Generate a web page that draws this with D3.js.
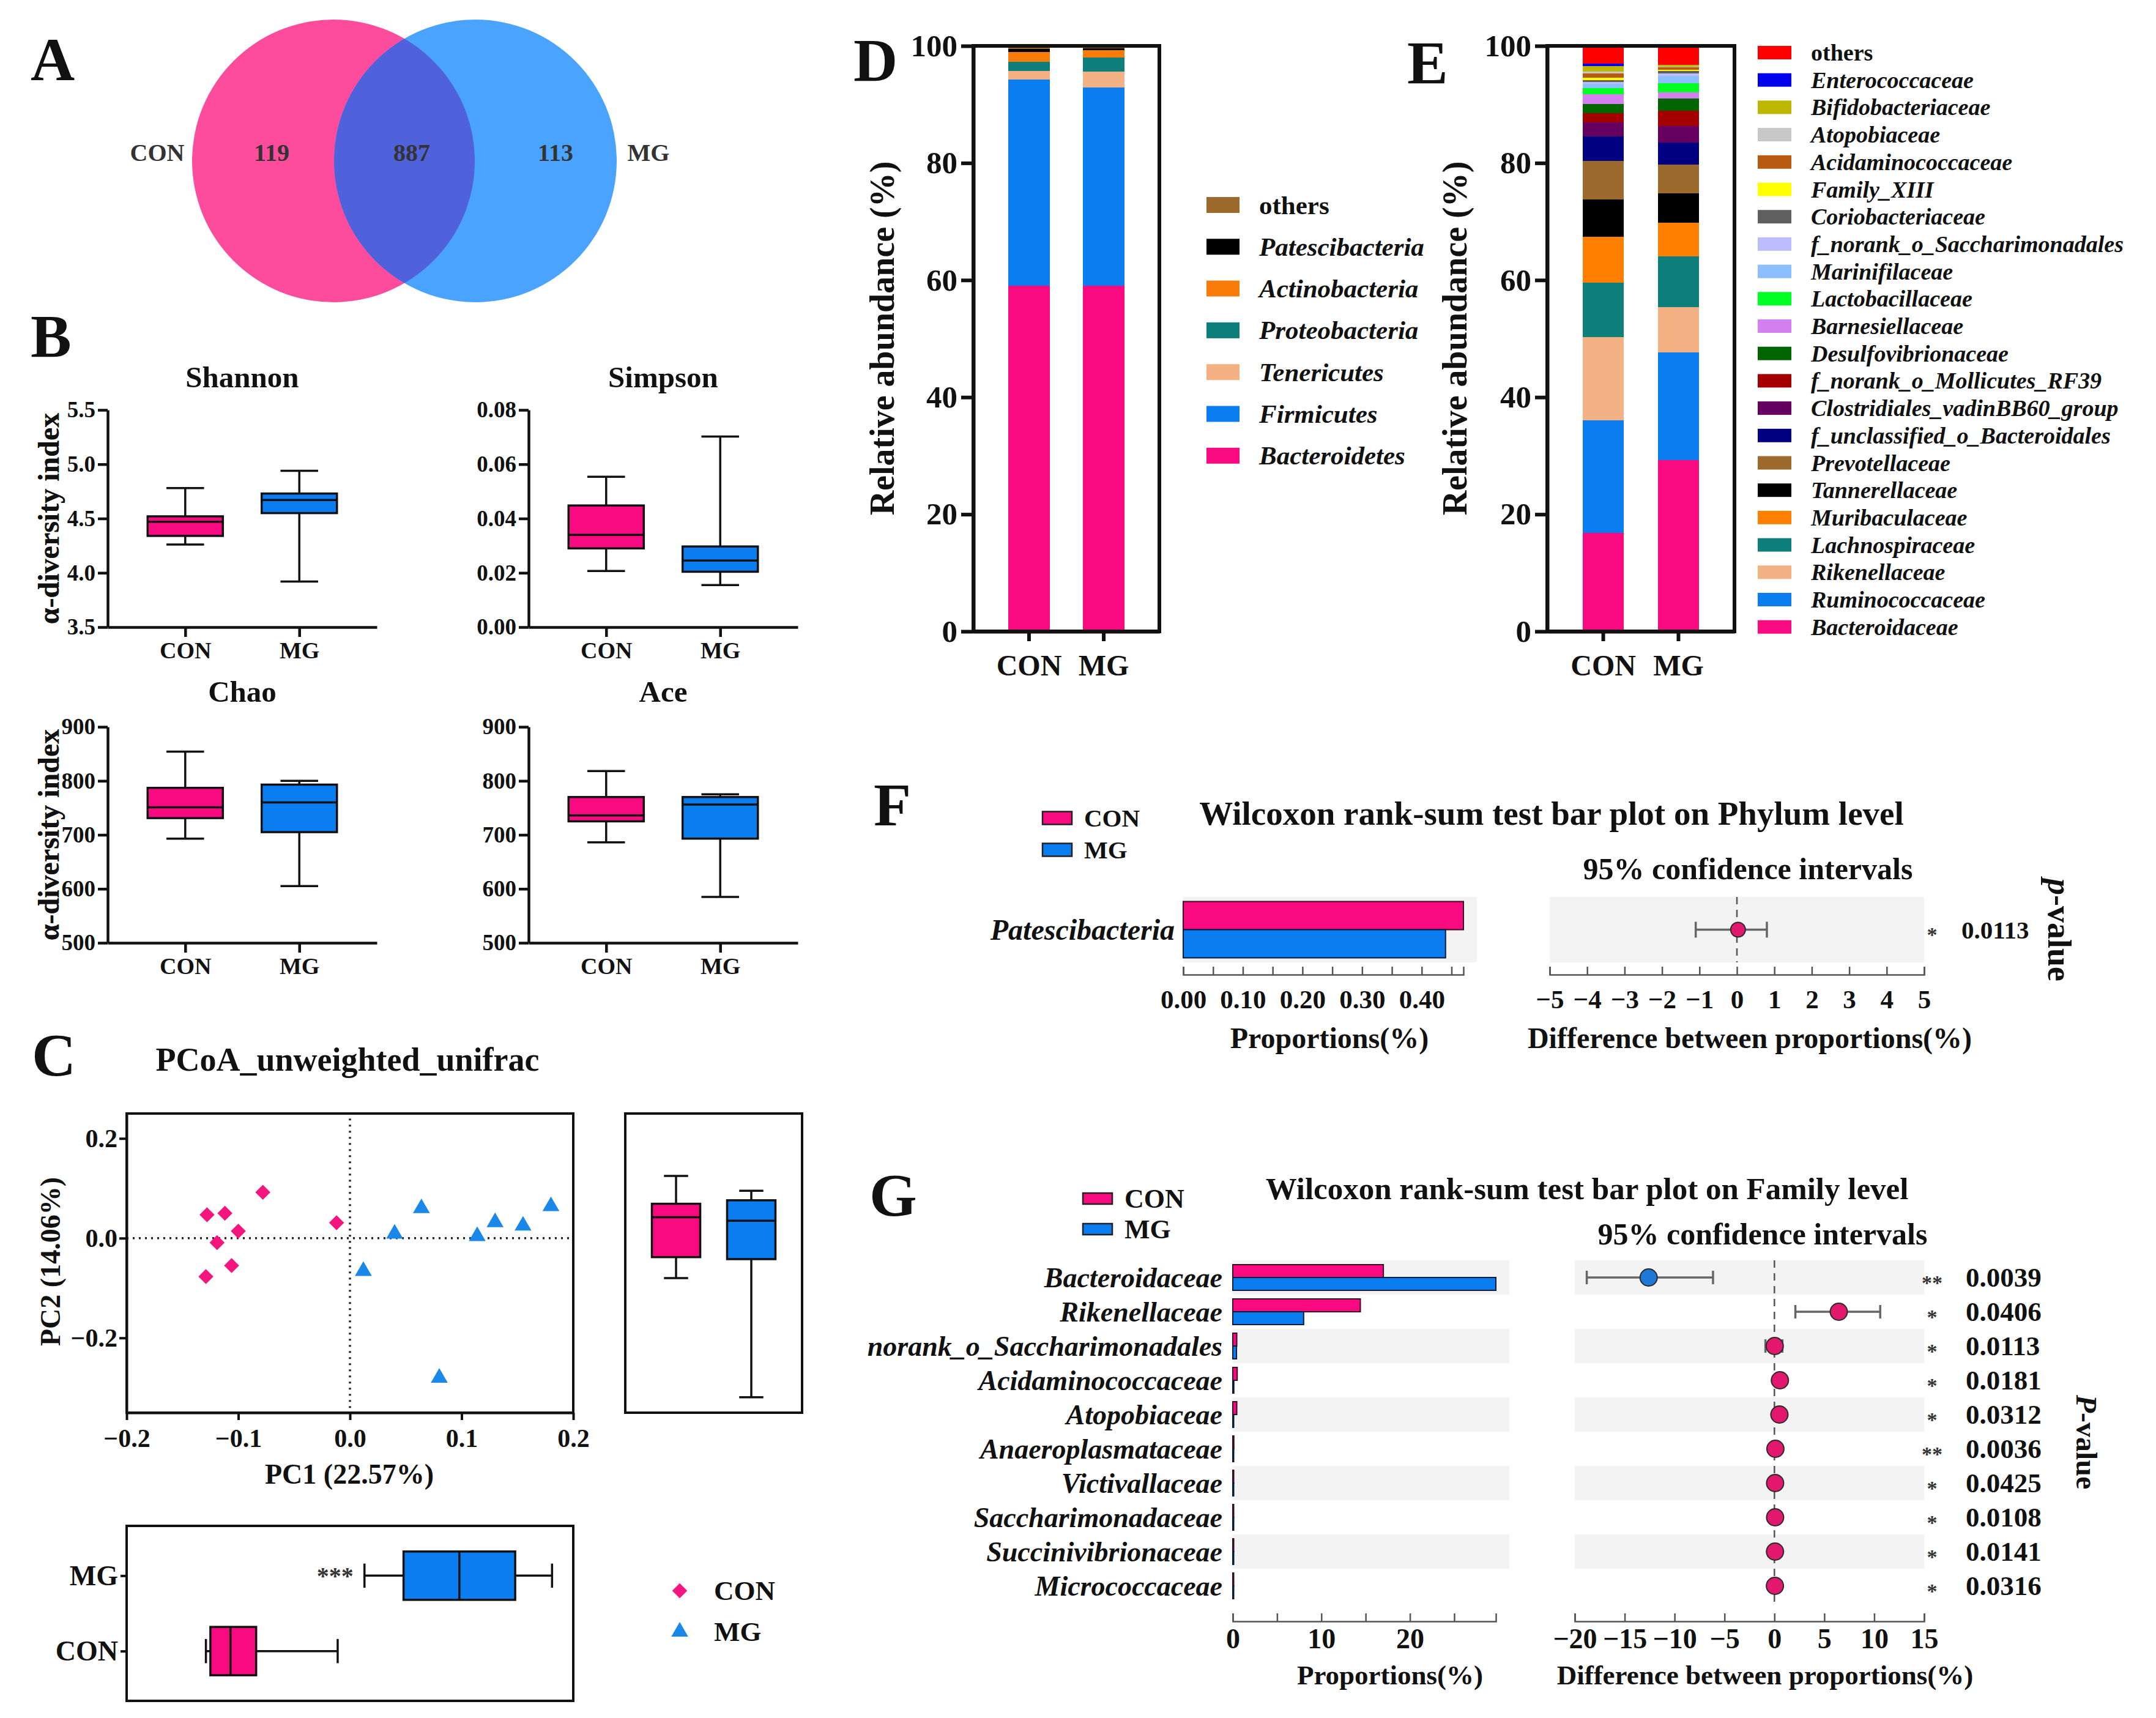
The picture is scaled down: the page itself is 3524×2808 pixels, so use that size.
<!DOCTYPE html>
<html>
<head>
<meta charset="utf-8">
<script src="https://cdn.jsdelivr.net/npm/d3@7"></script>
<style>
  body { margin: 0; background: #fff; }
  svg { display: block; }
  text { font-family: "Liberation Serif", "Times New Roman", serif; font-weight: bold; fill: #111; }
</style>
</head>
<body>
<svg id="fig" width="3524" height="2808"></svg>
<script>
// ---------------- data ----------------
const groups = ["CON", "MG"];
const vennCounts = [119, 887, 113];            // CON only, shared, MG only

// alpha diversity boxes: [min, q1, median, q3, max]
const shannonCON = [4.26, 4.34, 4.47, 4.52, 4.78];
const shannonMG  = [3.92, 4.55, 4.67, 4.73, 4.94];
const simpsonCON = [0.0207, 0.029, 0.034, 0.0448, 0.0554];
const simpsonMG  = [0.0155, 0.0204, 0.0245, 0.0297, 0.0702];
const chaoCON = [693, 731, 751, 787, 854];
const chaoMG  = [605, 705, 760, 793, 800];
const aceCON  = [686, 725, 736, 770, 818];
const aceMG   = [585, 693, 756, 770, 775];

// PCoA
const conPC1 = [-0.128, -0.112, -0.100, -0.119, -0.106, -0.129, -0.078, -0.012];
const conPC2 = [0.047, 0.050, 0.014, -0.009, -0.055, -0.077, 0.092, 0.031];
const mgPC1  = [0.064, 0.040, 0.012, 0.080, 0.114, 0.130, 0.155, 0.180];
const mgPC2  = [0.060, 0.009, -0.066, -0.280, 0.004, 0.032, 0.025, 0.064];
const pc1BoxCON = [-0.129, -0.125, -0.107, -0.084, -0.011];
const pc1BoxMG  = [0.013, 0.048, 0.098, 0.148, 0.181];
const pc2BoxCON = [-0.080, -0.038, 0.042, 0.069, 0.125];
const pc2BoxMG  = [-0.319, -0.042, 0.035, 0.076, 0.095];

// D: phylum composition (bottom to top)
const phylumNames = ["Bacteroidetes", "Firmicutes", "Tenericutes", "Proteobacteria",
  "Actinobacteria", "Patescibacteria", "others"];
const phylumCON = [59.0, 35.25, 1.5, 1.5, 1.75, 0.5, 0.5];
const phylumMG  = [59.0, 33.9, 2.7, 2.45, 1.2, 0.35, 0.4];

// E: family composition (bottom to top)
const familyNames = ["Bacteroidaceae", "Ruminococcaceae", "Rikenellaceae", "Lachnospiraceae",
  "Muribaculaceae", "Tannerellaceae", "Prevotellaceae", "f_unclassified_o_Bacteroidales",
  "Clostridiales_vadinBB60_group", "f_norank_o_Mollicutes_RF39", "Desulfovibrionaceae",
  "Barnesiellaceae", "Lactobacillaceae", "Marinifilaceae", "f_norank_o_Saccharimonadales",
  "Coriobacteriaceae", "Family_XIII", "Acidaminococcaceae", "Atopobiaceae",
  "Bifidobacteriaceae", "Enterococcaceae", "others"];
const familyCON = [16.8, 19.3, 14.2, 9.3, 7.8, 6.4, 6.6, 4.15, 2.4, 1.55, 1.55, 1.7, 1.0,
  0.75, 0.35, 0.3, 0.4, 0.7, 0.35, 0.9, 0.5, 3.0];
const familyMG  = [29.3, 18.3, 7.8, 8.7, 5.7, 5.0, 4.9, 3.8, 2.8, 2.6, 2.1, 1.1, 1.5,
  1.25, 0.5, 0.4, 0.2, 0.4, 0.1, 0.3, 0.05, 3.2];

// F: Wilcoxon test, phylum level
const phylumTest = ["Patescibacteria"];
const phylumTestCON = [0.47];
const phylumTestMG = [0.44];
const phylumTestDiff = [0.03];
const phylumTestLow = [-1.1];
const phylumTestHigh = [0.8];
const phylumTestP = ["0.0113"];
const phylumTestSig = ["*"];

// G: Wilcoxon test, family level
const familyTest = ["Bacteroidaceae", "Rikenellaceae", "norank_o_Saccharimonadales",
  "Acidaminococcaceae", "Atopobiaceae", "Anaeroplasmataceae", "Victivallaceae",
  "Saccharimonadaceae", "Succinivibrionaceae", "Micrococcaceae"];
const familyTestCON = [17.0, 14.4, 0.45, 0.5, 0.45, 0.12, 0.08, 0.08, 0.07, 0.06];
const familyTestMG  = [29.7, 8.0, 0.42, 0.12, 0.1, 0.02, 0.01, 0.01, 0.01, 0.01];
const familyTestDiff = [-12.6, 6.45, 0.03, 0.55, 0.5, 0.1, 0.07, 0.07, 0.06, 0.05];
const familyTestLow  = [-18.8, 2.1, -0.9, 0.2, 0.15, 0.0, 0.0, 0.0, 0.0, 0.0];
const familyTestHigh = [-6.15, 10.6, 0.8, 0.9, 0.8, 0.2, 0.15, 0.15, 0.1, 0.1];
const familyTestP = ["0.0039", "0.0406", "0.0113", "0.0181", "0.0312", "0.0036",
  "0.0425", "0.0108", "0.0141", "0.0316"];
const familyTestSig = ["**", "*", "*", "*", "*", "**", "*", "*", "*", "*"];

// ---------------- styles ----------------
const pink = "#fa0a80", blue = "#0a7df0";
const phylumColors = [pink, blue, "#f4b183", "#0e7f7a", "#f97c0a", "#000000", "#9b6a2c"];
const familyColors = [pink, blue, "#f4b183", "#0e7f7a", "#ff7f00", "#000000", "#9b6a2c",
  "#000080", "#660060", "#a50000", "#006400", "#d580f0", "#00ff22", "#8cbfff", "#bcbcff",
  "#5f5f5f", "#ffff00", "#b85a10", "#c8c8c8", "#bdb700", "#0000ee", "#ff0000"];

const svg = d3.select("#fig");

function txt(g, s, x, y, size, o = {}) {
  const t = g.append("text").attr("x", x).attr("y", y).attr("font-size", size).text(s);
  if (o.anchor) t.attr("text-anchor", o.anchor);
  if (o.italic) t.style("font-style", "italic");
  if (o.rotate) t.attr("transform", `rotate(${o.rotate},${x},${y})`);
  if (o.central) t.attr("dominant-baseline", "central");
  if (o.fill) t.style("fill", o.fill);
  return t;
}

function styleAxis(a, w, size, color = "#111") {
  a.attr("font-size", size);
  a.selectAll("path, line").attr("stroke", color).attr("stroke-width", w);
}

// vertical box: s = [min,q1,med,q3,max]
function vBox(g, cx, y, s, w, color, sw) {
  const line = (x1, y1, x2, y2) => g.append("line").attr("x1", x1).attr("y1", y1)
    .attr("x2", x2).attr("y2", y2).attr("stroke", "#111").attr("stroke-width", sw);
  line(cx, y(s[0]), cx, y(s[4]));
  line(cx - w / 4, y(s[0]), cx + w / 4, y(s[0]));
  line(cx - w / 4, y(s[4]), cx + w / 4, y(s[4]));
  g.append("rect").attr("x", cx - w / 2).attr("y", y(s[3])).attr("width", w)
    .attr("height", y(s[1]) - y(s[3])).attr("fill", color).attr("stroke", "#111").attr("stroke-width", sw);
  line(cx - w / 2, y(s[2]), cx + w / 2, y(s[2]));
}
function hBox(g, cy, x, s, h, color, sw) {
  const line = (x1, y1, x2, y2) => g.append("line").attr("x1", x1).attr("y1", y1)
    .attr("x2", x2).attr("y2", y2).attr("stroke", "#111").attr("stroke-width", sw);
  line(x(s[0]), cy, x(s[4]), cy);
  line(x(s[0]), cy - h / 4, x(s[0]), cy + h / 4);
  line(x(s[4]), cy - h / 4, x(s[4]), cy + h / 4);
  g.append("rect").attr("x", x(s[1])).attr("y", cy - h / 2).attr("width", x(s[3]) - x(s[1]))
    .attr("height", h).attr("fill", color).attr("stroke", "#111").attr("stroke-width", sw);
  line(x(s[2]), cy - h / 2, x(s[2]), cy + h / 2);
}

// ---------------- panel letters ----------------
[["A", 50, 131], ["B", 50, 583], ["C", 52, 1758], ["D", 1395, 132], ["E", 2300, 136],
 ["F", 1428, 1349], ["G", 1421, 1987]].forEach(d => txt(svg, d[0], d[1], d[2], 100));

// ---------------- A: Venn ----------------
{
  const g = svg.append("g");
  const cx = [545, 777], cy = 263, r = 231;
  svg.append("defs").append("clipPath").attr("id", "clipCon")
    .append("circle").attr("cx", cx[0]).attr("cy", cy).attr("r", r);
  g.append("circle").attr("cx", cx[0]).attr("cy", cy).attr("r", r).attr("fill", "#fe4c9d");
  g.append("circle").attr("cx", cx[1]).attr("cy", cy).attr("r", r).attr("fill", "#4aa3ff");
  g.append("circle").attr("cx", cx[1]).attr("cy", cy).attr("r", r).attr("fill", "#4f62dc")
    .attr("clip-path", "url(#clipCon)");
  txt(g, groups[0], 257, 249, 40, { anchor: "middle", central: true, fill: "#333" });
  txt(g, groups[1], 1060, 249, 40, { anchor: "middle", central: true, fill: "#333" });
  [444, 673, 908].forEach((x, i) =>
    txt(g, vennCounts[i], x, 249, 40, { anchor: "middle", central: true, fill: "#333" }));
}

// ---------------- B: alpha diversity ----------------
function alphaPanel(ox, yTop, yBot, titleY, name, dom, step, fmt, con, mg) {
  const g = svg.append("g");
  const y = d3.scaleLinear().domain(dom).range([yBot, yTop]);
  const x = d3.scalePoint().domain(groups).range([ox, ox + 440]).padding(0.68);
  const ya = g.append("g").attr("transform", `translate(${ox},0)`)
    .call(d3.axisLeft(y).tickValues(d3.range(dom[0], dom[1] + step / 2, step))
      .tickFormat(fmt).tickSize(16).tickPadding(4).tickSizeOuter(0));
  const xa = g.append("g").attr("transform", `translate(0,${yBot})`)
    .call(d3.axisBottom(x).tickSize(16).tickPadding(8).tickSizeOuter(0));
  styleAxis(ya, 4.5, 37);
  styleAxis(xa, 4.5, 38);
  vBox(g, x("CON"), y, con, 123, pink, 3.5);
  vBox(g, x("MG"), y, mg, 123, blue, 3.5);
  txt(g, name, ox + 220, titleY, 49, { anchor: "middle" });
  txt(g, "α-diversity index", 79, (yTop + yBot) / 2, 48,
    { anchor: "middle", central: true, rotate: -90 });
}
alphaPanel(176, 670, 1025, 633, "Shannon", [3.5, 5.5], 0.5, d3.format(".1f"), shannonCON, shannonMG);
alphaPanel(864, 670, 1025, 633, "Simpson", [0, 0.08], 0.02, d3.format(".2f"), simpsonCON, simpsonMG);
alphaPanel(176, 1188, 1541, 1147, "Chao", [500, 900], 100, d3.format("d"), chaoCON, chaoMG);
alphaPanel(864, 1188, 1541, 1147, "Ace", [500, 900], 100, d3.format("d"), aceCON, aceMG);

// ---------------- C: PCoA ----------------
{
  const g = svg.append("g");
  const x = d3.scaleLinear().domain([-0.2, 0.2]).range([207, 937]);
  const y = d3.scaleLinear().domain([-0.35, 0.25]).range([2309, 1820]);
  txt(g, "PCoA_unweighted_unifrac", 568, 1750, 54, { anchor: "middle" });

  // reference lines
  g.append("line").attr("x1", x(0)).attr("x2", x(0)).attr("y1", y(0.24)).attr("y2", y(-0.35))
    .attr("stroke", "#222").attr("stroke-width", 3.5).attr("stroke-dasharray", "3,7");
  g.append("line").attr("x1", x(-0.2)).attr("x2", x(0.2)).attr("y1", y(0)).attr("y2", y(0))
    .attr("stroke", "#222").attr("stroke-width", 3.5).attr("stroke-dasharray", "3,7");

  const xa = g.append("g").attr("transform", `translate(0,${y(-0.35)})`)
    .call(d3.axisBottom(x).tickValues([-0.2, -0.1, 0, 0.1, 0.2]).tickFormat(d3.format(".1f"))
      .tickSize(12).tickPadding(14).tickSizeOuter(0));
  const ya = g.append("g").attr("transform", `translate(${x(-0.2)},0)`)
    .call(d3.axisLeft(y).tickValues([-0.2, 0, 0.2]).tickFormat(d3.format(".1f"))
      .tickSize(12).tickPadding(3).tickSizeOuter(0));
  styleAxis(xa, 4, 42);
  styleAxis(ya, 4, 42);
  g.append("rect").attr("x", x(-0.2)).attr("y", y(0.25)).attr("width", x(0.2) - x(-0.2))
    .attr("height", y(-0.35) - y(0.25)).attr("fill", "none").attr("stroke", "#111").attr("stroke-width", 4);

  const diamond = d3.symbol(d3.symbolSquare, 300);
  const tri = d3.symbol(d3.symbolTriangle, 330);
  g.selectAll(".con").data(conPC1).join("path")
    .attr("transform", (d, i) => `translate(${x(d)},${y(conPC2[i])}) rotate(45)`)
    .attr("d", diamond).attr("fill", "#f5157f");
  g.selectAll(".mg").data(mgPC1).join("path")
    .attr("transform", (d, i) => `translate(${x(d)},${y(mgPC2[i])})`)
    .attr("d", tri).attr("fill", "#1a88e8");

  txt(g, "PC1 (22.57%)", 571, 2425, 46, { anchor: "middle" });
  txt(g, "PC2 (14.06%)", 82, 2062, 46, { anchor: "middle", central: true, rotate: -90 });

  // PC2 boxes on the right
  const bx = d3.scalePoint().domain(groups).range([1022, 1311]).padding(0.675);
  g.append("rect").attr("x", 1022).attr("y", y(0.25)).attr("width", 1311 - 1022)
    .attr("height", y(-0.35) - y(0.25)).attr("fill", "none").attr("stroke", "#111").attr("stroke-width", 4);
  vBox(g, bx("CON"), y, pc2BoxCON, 79, pink, 3.5);
  vBox(g, bx("MG"), y, pc2BoxMG, 79, blue, 3.5);

  // PC1 boxes below
  const by = d3.scalePoint().domain(["MG", "CON"]).range([2494, 2780]).padding(0.66);
  g.append("rect").attr("x", x(-0.2)).attr("y", 2494).attr("width", x(0.2) - x(-0.2))
    .attr("height", 2780 - 2494).attr("fill", "none").attr("stroke", "#111").attr("stroke-width", 4);
  const byA = g.append("g").attr("transform", `translate(${x(-0.2)},0)`)
    .call(d3.axisLeft(by).tickSize(10).tickPadding(4).tickSizeOuter(0));
  styleAxis(byA, 4, 46);
  byA.select(".domain").remove();
  hBox(g, by("MG"), x, pc1BoxMG, 79, blue, 3.5);
  hBox(g, by("CON"), x, pc1BoxCON, 79, pink, 3.5);
  txt(g, "***", x(pc1BoxMG[0]) - 18, by("MG") + 14, 40, { anchor: "end", fill: "#333" });

  // legend
  g.append("path").attr("transform", "translate(1111,2600) rotate(45)").attr("d", diamond).attr("fill", "#f5157f");
  g.append("path").attr("transform", "translate(1111,2667)").attr("d", tri).attr("fill", "#1a88e8");
  txt(g, "CON", 1167, 2600, 45, { central: true });
  txt(g, "MG", 1167, 2667, 45, { central: true });
}

// ---------------- D / E: stacked composition ----------------
function stackPanel(x0, x1, names, con, mg, colors, ylabX, leg) {
  const g = svg.append("g");
  const rows = groups.map((gn, gi) => {
    const r = { group: gn };
    names.forEach((n, k) => r[n] = (gi ? mg : con)[k]);
    return r;
  });
  const series = d3.stack().keys(names)(rows);
  const x = d3.scaleBand().domain(groups).range([x0, x1]).paddingInner(0.45).paddingOuter(0.47);
  const y = d3.scaleLinear().domain([0, 100]).range([1032, 75]);

  g.selectAll("g.s").data(series).join("g").attr("fill", (d, i) => colors[i])
    .selectAll("rect").data(d => d).join("rect")
    .attr("x", d => x(d.data.group)).attr("width", x.bandwidth())
    .attr("y", d => y(d[1])).attr("height", d => y(d[0]) - y(d[1]))
    .attr("shape-rendering", "crispEdges");

  g.append("rect").attr("x", x0).attr("y", y(100)).attr("width", x1 - x0).attr("height", y(0) - y(100))
    .attr("fill", "none").attr("stroke", "#111").attr("stroke-width", 6);
  const ya = g.append("g").attr("transform", `translate(${x0},0)`)
    .call(d3.axisLeft(y).tickValues([0, 20, 40, 60, 80, 100]).tickSize(20).tickPadding(6).tickSizeOuter(0));
  const xa = g.append("g").attr("transform", `translate(0,${y(0)})`)
    .call(d3.axisBottom(x).tickSize(16).tickPadding(22).tickSizeOuter(0));
  styleAxis(ya, 6, 51);
  styleAxis(xa, 6, 48);
  txt(g, "Relative abundance (%)", ylabX, 553, 56, { anchor: "middle", central: true, rotate: -90 });

  // legend, top to bottom
  const order = names.map((n, i) => i).reverse();
  order.forEach((k, j) => {
    const cy = leg.y0 + j * leg.dy;
    g.append("rect").attr("x", leg.x).attr("y", cy - leg.h / 2).attr("width", leg.w)
      .attr("height", leg.h).attr("fill", colors[k]);
    txt(g, names[k], leg.tx, cy, leg.size, { central: true, italic: names[k] !== "others" });
  });
}
stackPanel(1591, 1895, phylumNames, phylumCON, phylumMG, phylumColors, 1442,
  { x: 1972, w: 54, h: 26, y0: 335, dy: 68.3, tx: 2058, size: 43 });
stackPanel(2529, 2835, familyNames, familyCON, familyMG, familyColors, 2378,
  { x: 2873, w: 55, h: 22, y0: 86, dy: 44.7, tx: 2960, size: 38 });

// ---------------- F / G: Wilcoxon test bar plots ----------------
function testPanel(p) {
  const g = svg.append("g");
  const row = d3.scaleBand().domain(p.names).range([p.top, p.bottom]);
  const xl = d3.scaleLinear().domain([0, p.maxL]).range(p.rangeL);
  const xr = d3.scaleLinear().domain(p.domR).range(p.rangeR);
  const bh = row.bandwidth() * p.barFrac;
  const bw = row.bandwidth();

  p.names.forEach((n, i) => {
    if (i % 2) return;
    g.append("rect").attr("x", xl(0)).attr("y", row(n)).attr("width", xl(p.maxL) - xl(0) + 22)
      .attr("height", bw).attr("fill", "#f3f3f3");
    g.append("rect").attr("x", p.rangeR[0]).attr("y", row(n)).attr("width", p.rangeR[1] - p.rangeR[0])
      .attr("height", bw).attr("fill", "#f3f3f3");
  });

  g.selectAll(".bcon").data(p.names).join("rect")
    .attr("x", xl(0)).attr("y", d => row(d) + bw / 2 - bh)
    .attr("width", (d, i) => Math.max(1.5, xl(p.con[i]) - xl(0))).attr("height", bh)
    .attr("fill", pink).attr("stroke", "#3a0a22").attr("stroke-width", 2);
  g.selectAll(".bmg").data(p.names).join("rect")
    .attr("x", xl(0)).attr("y", d => row(d) + bw / 2)
    .attr("width", (d, i) => Math.max(1.5, xl(p.mg[i]) - xl(0))).attr("height", bh)
    .attr("fill", blue).attr("stroke", "#0a1a3a").attr("stroke-width", 2);

  g.append("line").attr("x1", xr(0)).attr("x2", xr(0)).attr("y1", p.top).attr("y2", p.bottom)
    .attr("stroke", "#555").attr("stroke-width", 2.5).attr("stroke-dasharray", "12,9");

  p.names.forEach((n, i) => {
    const cy = row(n) + bw / 2;
    const ci = (x1, y1, x2, y2) => g.append("line").attr("x1", x1).attr("y1", y1).attr("x2", x2)
      .attr("y2", y2).attr("stroke", "#666").attr("stroke-width", 3.5);
    ci(xr(p.low[i]), cy, xr(p.high[i]), cy);
    ci(xr(p.low[i]), cy - p.cap, xr(p.low[i]), cy + p.cap);
    ci(xr(p.high[i]), cy - p.cap, xr(p.high[i]), cy + p.cap);
    g.append("circle").attr("cx", xr(p.diff[i])).attr("cy", cy).attr("r", p.r)
      .attr("fill", p.diff[i] < 0 ? "#1f77d8" : "#e2186f").attr("stroke", "#2a2a2a").attr("stroke-width", 2);
    txt(g, p.names[i], p.labX, cy, p.labSize, { anchor: "end", central: true, italic: true });
    txt(g, p.sig[i], p.sigX, cy + 8, 34, { anchor: "middle", central: true, fill: "#333" });
    txt(g, p.pv[i], p.pX, cy, p.pSize, { central: true });
  });

  const la = g.append("g").attr("transform", `translate(0,${p.axisY})`)
    .call(d3.axisBottom(xl).tickValues(p.ticksL).tickFormat(p.fmtL)
      .tickSizeInner(-13).tickSizeOuter(-13).tickPadding(p.pad));
  const ra = g.append("g").attr("transform", `translate(0,${p.axisY})`)
    .call(d3.axisBottom(xr).tickValues(p.ticksR).tickFormat(d3.format("d"))
      .tickSizeInner(-13).tickSizeOuter(-13).tickPadding(p.pad));
  styleAxis(la, 2.5, p.tickSize, "#555");
  styleAxis(ra, 2.5, p.tickSize, "#555");

  txt(g, "Proportions(%)", p.propX, p.titleY, p.axSize, { anchor: "middle" });
  txt(g, "Difference between proportions(%)", p.diffX, p.titleY, p.axSize, { anchor: "middle" });
  txt(g, p.title, p.titleX, p.mainY, p.mainSize, { anchor: "middle" });
  txt(g, "95% confidence intervals", p.ciX, p.ciY, 50, { anchor: "middle" });

  const pl = txt(g, "", p.pvX, p.pvY, p.pvSize, { anchor: "middle", central: true, rotate: 90 });
  pl.append("tspan").style("font-style", "italic").text(p.pLetter);
  pl.append("tspan").text("-value");

  // legend
  p.legY.forEach((ly, i) => {
    g.append("rect").attr("x", p.legX).attr("y", ly - p.legH / 2).attr("width", 48).attr("height", p.legH)
      .attr("fill", i ? blue : pink).attr("stroke", "#222").attr("stroke-width", 2.5);
    txt(g, groups[i], p.legX + 68, ly, p.legSize, { central: true });
  });
}

const isMajor = (d, m) => Math.abs(Math.round(d / m) - d / m) < 1e-6;

testPanel({
  names: phylumTest, con: phylumTestCON, mg: phylumTestMG, diff: phylumTestDiff,
  low: phylumTestLow, high: phylumTestHigh, pv: phylumTestP, sig: phylumTestSig,
  top: 1466, bottom: 1573, barFrac: 0.43, maxL: 0.47, rangeL: [1934, 2392],
  domR: [-5, 5], rangeR: [2533, 3145], cap: 13, r: 12,
  ticksL: d3.range(0, 0.46, 0.05), fmtL: d => isMajor(d, 0.1) ? d3.format(".2f")(d) : "",
  ticksR: d3.range(-5, 6, 1), axisY: 1593, pad: 24, tickSize: 43,
  labX: 1920, labSize: 48, sigX: 3158, pX: 3206, pSize: 41,
  propX: 2173, diffX: 2860, titleY: 1713, axSize: 48,
  title: "Wilcoxon rank-sum test bar plot on Phylum level", titleX: 2536, mainY: 1348, mainSize: 55,
  ciX: 2857, ciY: 1437, pvX: 3366, pvY: 1520, pvSize: 54, pLetter: "p",
  legX: 1704, legY: [1337, 1389], legH: 21, legSize: 41
});

testPanel({
  names: familyTest, con: familyTestCON, mg: familyTestMG, diff: familyTestDiff,
  low: familyTestLow, high: familyTestHigh, pv: familyTestP, sig: familyTestSig,
  top: 2060, bottom: 2620, barFrac: 0.375, maxL: 29.7, rangeL: [2015, 2445],
  domR: [-20, 15], rangeR: [2574, 3145], cap: 11, r: 14,
  ticksL: d3.range(0, 26, 5), fmtL: d => isMajor(d, 10) ? d3.format("d")(d) : "",
  ticksR: d3.range(-20, 16, 5), axisY: 2650, pad: 11, tickSize: 46,
  labX: 1998, labSize: 46, sigX: 3158, pX: 3213, pSize: 45,
  propX: 2272, diffX: 2885, titleY: 2753, axSize: 45,
  title: "Wilcoxon rank-sum test bar plot on Family level", titleX: 2594, mainY: 1960, mainSize: 51,
  ciX: 2881, ciY: 2034, pvX: 3411, pvY: 2357, pvSize: 48, pLetter: "P",
  legX: 1770, legY: [1959, 2009], legH: 18, legSize: 44
});
</script>
</body>
</html>
